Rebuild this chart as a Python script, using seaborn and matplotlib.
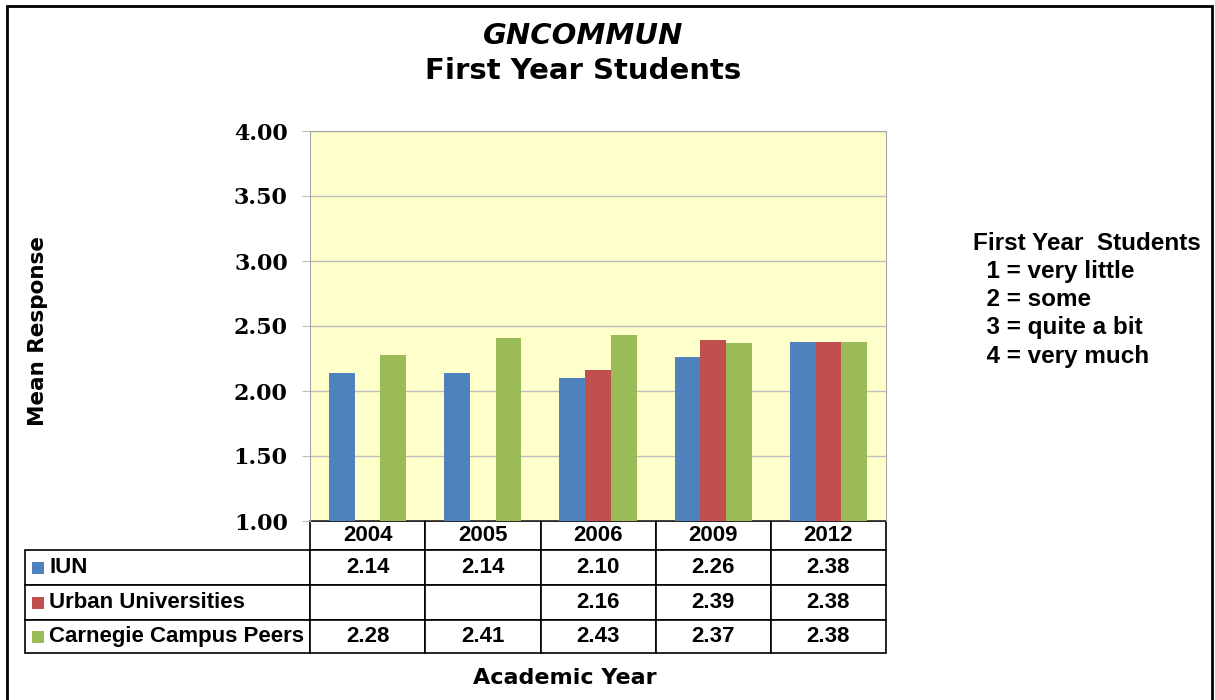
import numpy as np
import pandas as pd
import matplotlib
matplotlib.use("Agg")
import matplotlib.pyplot as plt
import seaborn as sns
from matplotlib.patches import Rectangle

# data
years = ["2004", "2005", "2006", "2009", "2012"]
groups = ["IUN", "Urban Universities", "Carnegie Campus Peers"]
iun = [2.14, 2.14, 2.10, 2.26, 2.38]
urban = [np.nan, np.nan, 2.16, 2.39, 2.38]
carnegie = [2.28, 2.41, 2.43, 2.37, 2.38]
colors = ["#4F81BD", "#C0504D", "#9BBB59"]
scale_lines = ["First Year  Students", "  1 = very little", "  2 = some",
               "  3 = quite a bit", "  4 = very much"]

series = [iun, urban, carnegie]
df = pd.DataFrame({
    "year": years * 3,
    "group": [g for g in groups for _ in years],
    "value": iun + urban + carnegie,
})

sns.set_style("white")
plt.rcParams["text.color"] = "black"
W, H = 1215, 700
fig = plt.figure(figsize=(W / 100, H / 100), dpi=100)

def px(x, y):
    return x / W, 1 - y / H

# plot area 310..886 x, 131..521 y
ax = fig.add_axes([310 / W, 1 - 521 / H, 576 / W, 390 / H])
ax.set_facecolor("#FFFFCC")

sns.barplot(data=df, x="year", y="value", hue="group", hue_order=groups,
            order=years, palette=colors, width=0.67, saturation=1,
            linewidth=0, edgecolor="none",
            legend=False, ax=ax, zorder=3)

ax.set_ylim(1, 4)
ticks = np.arange(1, 4.01, 0.5)
ax.set_yticks(ticks)
ax.set_yticklabels([f"{v:.2f}" for v in ticks], color="black",
                   fontfamily="DejaVu Serif", fontweight="bold", fontsize=16)
ax.yaxis.grid(True, color="#BFBFBF", linewidth=1, zorder=0)
ax.set_axisbelow(True)
ax.tick_params(axis="y", left=True, length=6, color="#BFBFBF", pad=10)
ax.tick_params(axis="x", bottom=False, labelbottom=False)
ax.set_xlabel("")
ax.set_ylabel("")
for s in ["left", "right", "top"]:
    ax.spines[s].set_color("#A6A6A6")
ax.spines["bottom"].set_visible(False)

# data table below the axes
cell_text = [[""] + years]
for g, vals in zip(groups, series):
    cell_text.append([g] + ["" if np.isnan(v) else f"{v:.2f}" for v in vals])

col_w = [285] + [115] * len(years)
row_h = [29, 35, 35, 33]
tbl_x = -285 / 576
tbl_h = sum(row_h) / 390
tbl = ax.table(cellText=cell_text, cellLoc="center",
               bbox=[tbl_x, -tbl_h, 1 - tbl_x, tbl_h])
tbl.auto_set_font_size(False)
for (r, c), cell in tbl.get_celld().items():
    cell.set_width(col_w[c])
    cell.set_height(row_h[r])
    cell.set_edgecolor("black")
    cell.set_linewidth(1.2)
    t = cell.get_text()
    t.set_color("black")
    t.set_fontfamily("Liberation Sans")
    t.set_fontweight("bold")
    t.set_fontsize(16)
    if r == 0 and c == 0:
        cell.visible_edges = ""
    if c == 0:
        cell._loc = "left"
        cell.PAD = 24 / 285
        t.set_horizontalalignment("left")

# colour keys inside the row label cells
y0 = 550
for i, col in enumerate(colors):
    yc = y0 + sum(row_h[1:i + 1]) + row_h[i + 1] / 2
    fx, fy = px(32, yc + 6)
    fig.patches.append(Rectangle((fx, fy), 12 / W, 12 / H, transform=fig.transFigure,
                                 facecolor=col, edgecolor="none"))

# titles
fig.text(*px(583, 36), "GNCOMMUN", ha="center", va="center", fontsize=21,
         fontweight="bold", fontstyle="italic", fontfamily="DejaVu Sans")
fig.text(*px(583, 71), "First Year Students", ha="center", va="center",
         fontsize=21, fontweight="bold", fontfamily="DejaVu Sans")
fig.text(*px(38, 331), "Mean Response", ha="center", va="center", rotation=90,
         fontsize=15.5, fontweight="bold", fontfamily="DejaVu Sans")
fig.text(*px(565, 678), "Academic Year", ha="center", va="center",
         fontsize=16, fontweight="bold", fontfamily="DejaVu Sans")

# response scale note
for i, line in enumerate(scale_lines):
    fig.text(*px(973, 243 + i * 28.3), line, ha="left", va="center",
             fontsize=17.5, fontweight="bold", fontfamily="Liberation Sans")

# outer frame
fig.patches.append(Rectangle(px(7, 720), 1205 / W, 714 / H, transform=fig.transFigure,
                             facecolor="none", edgecolor="black", linewidth=2))

fig.savefig("out.png", dpi=100)
